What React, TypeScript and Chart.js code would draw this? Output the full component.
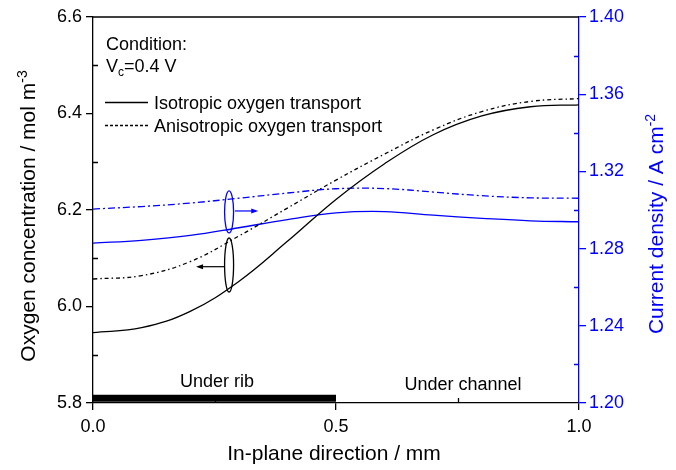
import React, { useEffect, useRef } from "react";
import { Chart, registerables } from "chart.js";

Chart.register(...registerables);

// ---- data ----
const X_POS = [0.0, 0.1, 0.2, 0.3, 0.4, 0.5, 0.6, 0.7, 0.8, 0.9, 1.0];
const O2_ISO = [5.946, 5.956, 5.990, 6.052, 6.135, 6.222, 6.296, 6.356, 6.395, 6.414, 6.418];
const O2_ANISO = [6.057, 6.064, 6.093, 6.146, 6.204, 6.262, 6.316, 6.366, 6.404, 6.425, 6.431];
const CUR_ISO = [1.2828, 1.2843, 1.2868, 1.2908, 1.2950, 1.2985, 1.2992, 1.2973, 1.2957, 1.2944, 1.2939];
const CUR_ANISO = [1.3005, 1.3018, 1.3036, 1.3061, 1.3088, 1.3110, 1.3111, 1.3093, 1.3074, 1.3063, 1.3061];
const RIB_X = [0.0, 0.5];
const RIB_Y = 5.81;

const X_MAJOR = [0.0, 0.5, 1.0];
const X_MINOR = [0.25, 0.75];
const Y_MINOR = [5.9, 6.1, 6.3, 6.5];
const Y1_MINOR = [1.22, 1.26, 1.30, 1.34, 1.38];

const BLUE = "#0000FF";
const FONT = '"Liberation Sans", Arial, sans-serif';

type Seg = { t: string; size: number; dy: number };

function drawRich(ctx: CanvasRenderingContext2D, segs: Seg[], x: number, y: number, rot: number, color: string, align: "center" | "left") {
  ctx.save();
  ctx.translate(x, y);
  ctx.rotate(rot);
  ctx.fillStyle = color;
  ctx.textBaseline = "alphabetic";
  ctx.textAlign = "left";
  let total = 0;
  for (const s of segs) {
    ctx.font = `${s.size}px ${FONT}`;
    total += ctx.measureText(s.t).width;
  }
  let cx = align === "center" ? -total / 2 : 0;
  for (const s of segs) {
    ctx.font = `${s.size}px ${FONT}`;
    ctx.fillText(s.t, cx, s.dy);
    cx += ctx.measureText(s.t).width;
  }
  ctx.restore();
}

const decorPlugin = {
  id: "decor",
  afterDraw(chart: any) {
    const ctx: CanvasRenderingContext2D = chart.ctx;
    const { left, right, top, bottom } = chart.chartArea;
    const xs = chart.scales.x;
    const ys = chart.scales.y;
    const y1 = chart.scales.y1;
    ctx.save();
    // top frame
    ctx.strokeStyle = "#000";
    ctx.lineWidth = 1.3;
    ctx.beginPath();
    ctx.moveTo(left, top);
    ctx.lineTo(right, top);
    ctx.stroke();
    // minor ticks (inward)
    ctx.beginPath();
    for (const v of Y_MINOR) {
      const p = Math.round(ys.getPixelForValue(v)) + 0.5;
      ctx.moveTo(left, p);
      ctx.lineTo(left + 5, p);
    }
    for (const v of X_MINOR) {
      const p = Math.round(xs.getPixelForValue(v)) + 0.5;
      ctx.moveTo(p, bottom);
      ctx.lineTo(p, bottom - 5);
    }
    ctx.stroke();
    ctx.strokeStyle = BLUE;
    ctx.beginPath();
    for (const v of Y1_MINOR) {
      const p = Math.round(y1.getPixelForValue(v)) + 0.5;
      ctx.moveTo(right, p);
      ctx.lineTo(right - 5, p);
    }
    ctx.stroke();

    // ellipses + arrows
    const ex = xs.getPixelForValue(0.28);
    ctx.lineWidth = 1.3;
    ctx.strokeStyle = BLUE;
    ctx.beginPath();
    ctx.ellipse(ex, y1.getPixelForValue(1.299), 4.5, 21, 0, 0, Math.PI * 2);
    ctx.stroke();
    ctx.strokeStyle = "#000";
    ctx.beginPath();
    ctx.ellipse(ex, ys.getPixelForValue(6.086), 4.5, 27, 0, 0, Math.PI * 2);
    ctx.stroke();

    const arrow = (x0: number, x1: number, y: number, color: string) => {
      ctx.strokeStyle = color;
      ctx.fillStyle = color;
      ctx.lineWidth = 1.2;
      const dir = Math.sign(x1 - x0);
      ctx.beginPath();
      ctx.moveTo(x0, y);
      ctx.lineTo(x1 - dir * 5, y);
      ctx.stroke();
      ctx.beginPath();
      ctx.moveTo(x1, y);
      ctx.lineTo(x1 - dir * 7, y - 2.5);
      ctx.lineTo(x1 - dir * 7, y + 2.5);
      ctx.closePath();
      ctx.fill();
    };
    const ay1 = y1.getPixelForValue(1.2995);
    arrow(xs.getPixelForValue(0.292), xs.getPixelForValue(0.34), ay1, BLUE);
    const ay0 = ys.getPixelForValue(6.0825);
    arrow(xs.getPixelForValue(0.27), xs.getPixelForValue(0.212), ay0, "#000");

    // legend / condition box
    drawRich(ctx, [{ t: "Condition:", size: 18, dy: 0 }], 106, 50, 0, "#000", "left");
    drawRich(ctx, [
      { t: "V", size: 18, dy: 0 },
      { t: "c", size: 12, dy: 4 },
      { t: "=0.4 V", size: 18, dy: 0 },
    ], 106, 72, 0, "#000", "left");
    ctx.lineWidth = 1.3;
    ctx.strokeStyle = "#000";
    ctx.setLineDash([]);
    ctx.beginPath();
    ctx.moveTo(105, 102.5);
    ctx.lineTo(148, 102.5);
    ctx.stroke();
    ctx.setLineDash([3, 2]);
    ctx.beginPath();
    ctx.moveTo(105, 125.5);
    ctx.lineTo(148, 125.5);
    ctx.stroke();
    ctx.setLineDash([]);
    drawRich(ctx, [{ t: "Isotropic oxygen transport", size: 18, dy: 0 }], 154, 109, 0, "#000", "left");
    drawRich(ctx, [{ t: "Anisotropic oxygen transport", size: 18, dy: 0 }], 154, 132, 0, "#000", "left");

    // region labels
    drawRich(ctx, [{ t: "Under rib", size: 18, dy: 0 }], 217, 387, 0, "#000", "center");
    drawRich(ctx, [{ t: "Under channel", size: 18, dy: 0 }], 463, 390, 0, "#000", "center");

    // axis titles
    drawRich(ctx, [{ t: "In-plane direction / mm", size: 21, dy: 0 }], 334, 460, 0, "#000", "center");
    drawRich(ctx, [
      { t: "Oxygen concentration / mol m", size: 21, dy: 0 },
      { t: "-3", size: 14, dy: -8 },
    ], 35, 216, -Math.PI / 2, "#000", "center");
    drawRich(ctx, [
      { t: "Current density / A cm", size: 21, dy: 0 },
      { t: "-2", size: 14, dy: -8 },
    ], 663, 224, -Math.PI / 2, BLUE, "center");
    ctx.restore();
  },
};

export default function App() {
  const ref = useRef<HTMLCanvasElement>(null);
  useEffect(() => {
    document.body.style.margin = "0";
    const pts = (ys: number[]) => X_POS.map((x, i) => ({ x, y: ys[i] }));
    const base = { pointRadius: 0, borderWidth: 1.3, fill: false, tension: 0.4 };
    const chart = new Chart(ref.current!, {
      type: "line",
      data: {
        datasets: [
          { ...base, data: pts(O2_ISO), borderColor: "#000", yAxisID: "y" },
          { ...base, data: pts(O2_ANISO), borderColor: "#000", borderDash: [4, 3, 1.5, 3], yAxisID: "y" },
          { ...base, data: pts(CUR_ISO), borderColor: BLUE, yAxisID: "y1" },
          { ...base, data: pts(CUR_ANISO), borderColor: BLUE, borderDash: [7, 3, 2, 3], yAxisID: "y1" },
          {
            pointRadius: 0,
            data: RIB_X.map((x) => ({ x, y: RIB_Y })),
            borderColor: "#000",
            borderWidth: 7,
            borderCapStyle: "butt",
            yAxisID: "y",
          },
        ],
      },
      options: {
        animation: false,
        responsive: false,
        layout: { padding: { top: 17, left: 0, right: 0, bottom: 0 } },
        plugins: { legend: { display: false }, tooltip: { enabled: false }, title: { display: false } },
        scales: {
          x: {
            type: "linear",
            min: 0,
            max: 1,
            afterBuildTicks: (s: any) => { s.ticks = X_MAJOR.map((v) => ({ value: v })); },
            afterFit: (s: any) => { s.height = 67; },
            ticks: { color: "#000", font: { size: 18, family: FONT }, padding: 6, callback: (v: any) => Number(v).toFixed(1), maxRotation: 0 },
            grid: { display: true, drawOnChartArea: false, drawTicks: true, tickLength: 7, color: "#000", lineWidth: 1.3 },
            border: { display: true, color: "#000", width: 1.3 },
          },
          y: {
            position: "left",
            min: 5.8,
            max: 6.6,
            ticks: { stepSize: 0.2, color: "#000", font: { size: 18, family: FONT }, padding: 4, callback: (v: any) => Number(v).toFixed(1) },
            afterFit: (s: any) => { s.width = 93; },
            grid: { display: true, drawOnChartArea: false, drawTicks: true, tickLength: 7, color: "#000", lineWidth: 1.3 },
            border: { display: true, color: "#000", width: 1.3 },
          },
          y1: {
            position: "right",
            min: 1.2,
            max: 1.4,
            ticks: { stepSize: 0.04, color: BLUE, font: { size: 18, family: FONT }, padding: 3, callback: (v: any) => Number(v).toFixed(2) },
            afterFit: (s: any) => { s.width = 97; },
            grid: { display: true, drawOnChartArea: false, drawTicks: true, tickLength: 7, color: BLUE, lineWidth: 1.3 },
            border: { display: true, color: BLUE, width: 1.3 },
          },
        },
      },
      plugins: [decorPlugin],
    });
    return () => chart.destroy();
  }, []);
  return (
    <div style={{ width: 676, height: 470, background: "#fff" }}>
      <canvas ref={ref} width={676} height={470} />
    </div>
  );
}
